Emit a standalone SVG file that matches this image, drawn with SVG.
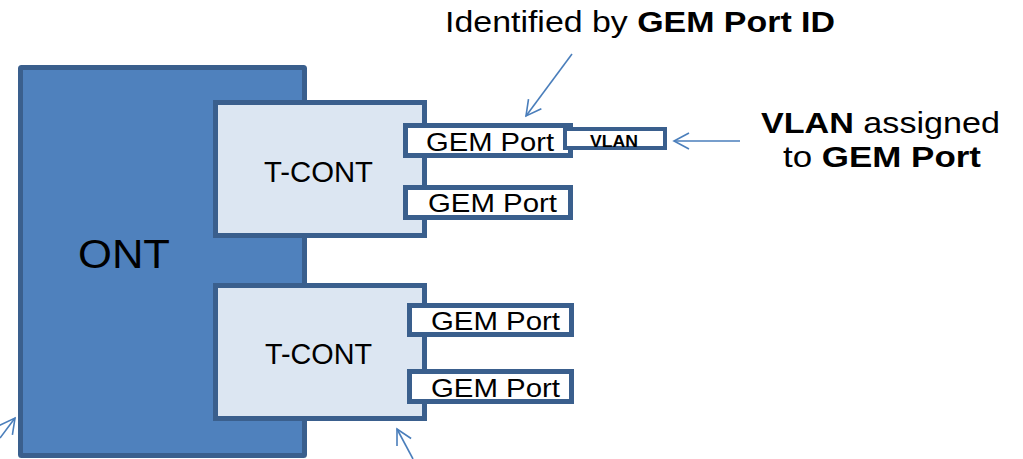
<svg xmlns="http://www.w3.org/2000/svg" width="1023" height="459" viewBox="0 0 1023 459">
<style>
.ont{fill:#4F81BD;stroke:#3A5F8D;stroke-width:5}
.tc{fill:#DCE6F2;stroke:#3A5F8D;stroke-width:5}
.gem{fill:#FFFFFF;stroke:#3A5F8D;stroke-width:5}
.vlan{fill:#FFFFFF;stroke:#3A5F8D;stroke-width:4}
.t{font-family:"Liberation Sans",Arial,sans-serif;fill:#000}
.b{font-weight:bold}
.arr{stroke:#4A7EBB;stroke-width:1.6;fill:none;marker-end:url(#ah)}
</style>
<defs>
<marker id="ah" markerUnits="userSpaceOnUse" markerWidth="20" markerHeight="20" refX="16" refY="9" orient="auto" viewBox="0 0 20 18">
<path d="M1,1 L16,9 L1,17" fill="none" stroke="#4A7EBB" stroke-width="1.6"/>
</marker>
</defs>
<g id="ont">
<rect class="ont" x="20.5" y="67.5" width="284" height="388" rx="1"/>
<text class="t" x="78" y="268" font-size="40" textLength="92" lengthAdjust="spacingAndGlyphs">ONT</text>
</g>
<g id="tcont1">
<rect class="tc" x="215.5" y="102.5" width="209" height="133"/>
<text class="t" x="264" y="182" font-size="30" textLength="109" lengthAdjust="spacingAndGlyphs">T-CONT</text>
</g>
<g id="tcont2">
<rect class="tc" x="215.5" y="285.5" width="209" height="133"/>
<text class="t" x="265" y="364" font-size="30" textLength="107" lengthAdjust="spacingAndGlyphs">T-CONT</text>
</g>
<g id="gem1">
<rect class="gem" x="405.5" y="125.5" width="165" height="30"/>
<text class="t" x="426" y="151" font-size="26" textLength="128" lengthAdjust="spacingAndGlyphs">GEM Port</text>
</g>
<g id="vlan">
<rect class="vlan" x="565" y="129" width="100" height="19"/>
<text class="t b" x="590" y="147" font-size="16" textLength="48" lengthAdjust="spacingAndGlyphs">VLAN</text>
</g>
<g id="gem2">
<rect class="gem" x="405.5" y="187.5" width="165" height="30"/>
<text class="t" x="428" y="212" font-size="26" textLength="129" lengthAdjust="spacingAndGlyphs">GEM Port</text>
</g>
<g id="gem3">
<rect class="gem" x="409.5" y="305.5" width="162" height="29"/>
<text class="t" x="431" y="330" font-size="26" textLength="129" lengthAdjust="spacingAndGlyphs">GEM Port</text>
</g>
<g id="gem4">
<rect class="gem" x="409.5" y="371.5" width="162" height="30"/>
<text class="t" x="431" y="397" font-size="26" textLength="129" lengthAdjust="spacingAndGlyphs">GEM Port</text>
</g>
<g id="labels">
<text class="t" x="445" y="32" font-size="29" textLength="390" lengthAdjust="spacingAndGlyphs">Identified by <tspan class="b">GEM Port ID</tspan></text>
<text class="t" x="761" y="133" font-size="29" textLength="239" lengthAdjust="spacingAndGlyphs"><tspan class="b">VLAN</tspan> assigned</text>
<text class="t" x="783" y="167" font-size="29" textLength="198" lengthAdjust="spacingAndGlyphs">to <tspan class="b">GEM Port</tspan></text>
</g>
<g id="connectors">
<line class="arr" x1="572" y1="54" x2="526" y2="116"/>
<line class="arr" x1="740" y1="141" x2="674" y2="141"/>
<line class="arr" x1="0" y1="438" x2="15" y2="418"/>
<line class="arr" x1="413" y1="459" x2="397" y2="429"/>
</g>
</svg>
